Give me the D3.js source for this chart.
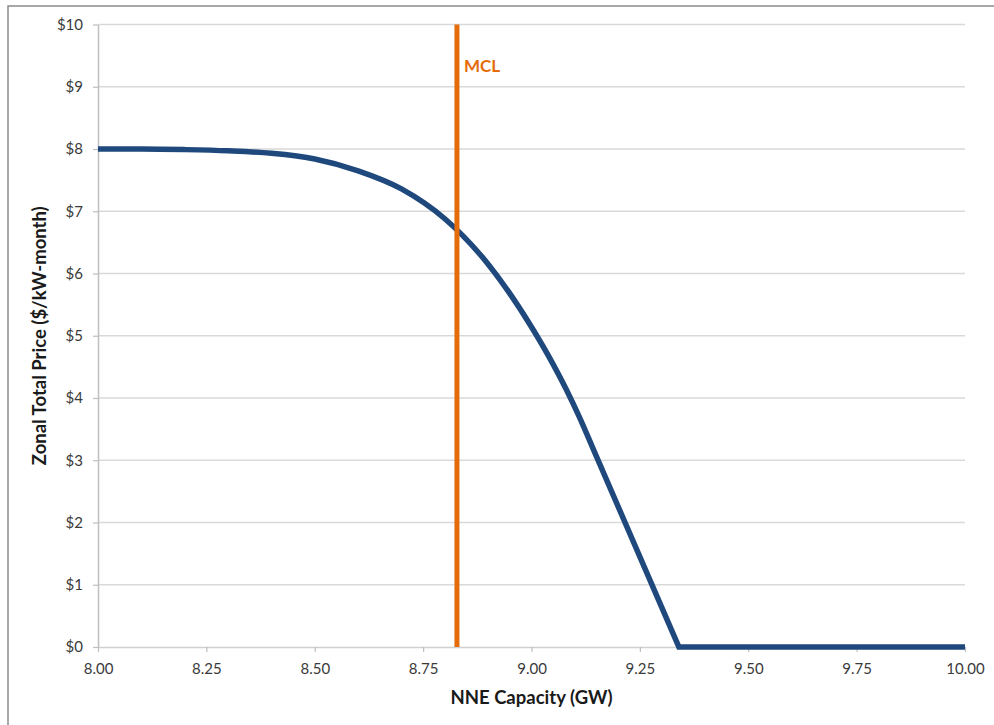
<!DOCTYPE html>
<html>
<head>
<meta charset="utf-8">
<script src="https://cdn.jsdelivr.net/npm/d3@7"></script>
<style>
  html, body { margin: 0; padding: 0; background: #fff; }
  svg { display: block; }
</style>
</head>
<body>
<svg id="chart" width="994" height="725"></svg>
<script>
// ---- data ----
const capacityGW = [8.00, 8.10, 8.20, 8.30, 8.40, 8.50, 8.60, 8.70, 8.80, 8.90, 9.00, 9.05, 9.08, 9.11, 9.14, 9.34, 9.50, 9.75, 10.00];
const priceUSD   = [8.00, 8.00, 7.99, 7.97, 7.93, 7.84, 7.65, 7.36, 6.88, 6.15, 5.14, 4.54, 4.14, 3.70, 3.22, 0.00, 0.00, 0.00, 0.00];
const mclValue = 8.828;
const mclLabel = "MCL";
const xTicks = [8.00, 8.25, 8.50, 8.75, 9.00, 9.25, 9.50, 9.75, 10.00];
const yTicks = [0, 1, 2, 3, 4, 5, 6, 7, 8, 9, 10];
const xTitle = "NNE Capacity (GW)";
const yTitle = "Zonal Total Price ($/kW-month)";

(function () {
// ---- layout ----
const svg = d3.select("#chart");
const pLeft = 98, pRight = 965, pTop = 24.5, pBottom = 647;
const font = "Lato, 'Open Sans', sans-serif";

// outer border
svg.append("rect")
  .attr("x", 8).attr("y", 6).attr("width", 1000).attr("height", 740)
  .attr("fill", "none").attr("stroke", "#8c8c8c").attr("stroke-width", 1.5);

const x = d3.scaleLinear().domain([8, 10]).range([pLeft, pRight]);
const y = d3.scaleLinear().domain([0, 10]).range([pBottom, pTop]);

// gridlines
svg.append("g").selectAll("line").data(yTicks.filter(d => d > 0)).join("line")
  .attr("x1", pLeft).attr("x2", pRight)
  .attr("y1", d => y(d)).attr("y2", d => y(d))
  .attr("stroke", "#d9d9d9").attr("stroke-width", 1.5);

// y axis
const yAxis = svg.append("g").attr("transform", `translate(${pLeft},0)`)
  .call(d3.axisLeft(y).tickValues(yTicks).tickFormat(d => "$" + d).tickSize(5).tickSizeOuter(0).tickPadding(10));
yAxis.select(".domain").attr("stroke", "#bfbfbf").attr("stroke-width", 1.5);
yAxis.selectAll(".tick line").attr("stroke", "#bfbfbf").attr("stroke-width", 1.2);
yAxis.selectAll(".tick text").attr("font-family", font).attr("font-size", 15).attr("fill", "#3a3a3a");

// x axis
const xAxis = svg.append("g").attr("transform", `translate(0,${pBottom})`)
  .call(d3.axisBottom(x).tickValues(xTicks).tickFormat(d3.format(".2f")).tickSize(5).tickSizeOuter(0).tickPadding(11));
xAxis.select(".domain").attr("stroke", "#d0d0d0").attr("stroke-width", 1.5);
xAxis.selectAll(".tick line").attr("stroke", "#bfbfbf").attr("stroke-width", 1.2);
xAxis.selectAll(".tick text").attr("font-family", font).attr("font-size", 15).attr("fill", "#3a3a3a");

// curve: smooth descending part, straight flat tail after the price hits zero
const pts = capacityGW.map((c, i) => [c, priceUSD[i]]);
const k = priceUSD.indexOf(0);
const smooth = d3.line().x(d => x(d[0])).y(d => y(d[1])).curve(d3.curveMonotoneX);
const straight = d3.line().x(d => x(d[0])).y(d => y(d[1]));
const dPath = smooth(pts.slice(0, k + 1)) + straight(pts.slice(k)).replace(/^M/, "L");
svg.append("path")
  .attr("d", dPath)
  .attr("fill", "none").attr("stroke", "#1f497d").attr("stroke-width", 5.5)
  .attr("stroke-linejoin", "miter");

// MCL line
svg.append("line")
  .attr("x1", x(mclValue)).attr("x2", x(mclValue))
  .attr("y1", y(10)).attr("y2", y(0))
  .attr("stroke", "#e46c0a").attr("stroke-width", 5);
svg.append("text")
  .attr("x", x(mclValue) + 7).attr("y", 72)
  .attr("font-family", font).attr("font-weight", "bold").attr("font-size", 17)
  .attr("fill", "#e46c0a").text(mclLabel);

// titles
svg.append("text")
  .attr("x", x(9)).attr("y", 704).attr("text-anchor", "middle")
  .attr("font-family", font).attr("font-weight", "bold").attr("font-size", 18.5)
  .attr("fill", "#1a1a1a").text(xTitle);
svg.append("text")
  .attr("transform", `translate(46,${(pTop + pBottom) / 2}) rotate(-90)`)
  .attr("text-anchor", "middle")
  .attr("font-family", font).attr("font-weight", "bold").attr("font-size", 18.5)
  .attr("fill", "#1a1a1a").text(yTitle);
})();
</script>
</body>
</html>
